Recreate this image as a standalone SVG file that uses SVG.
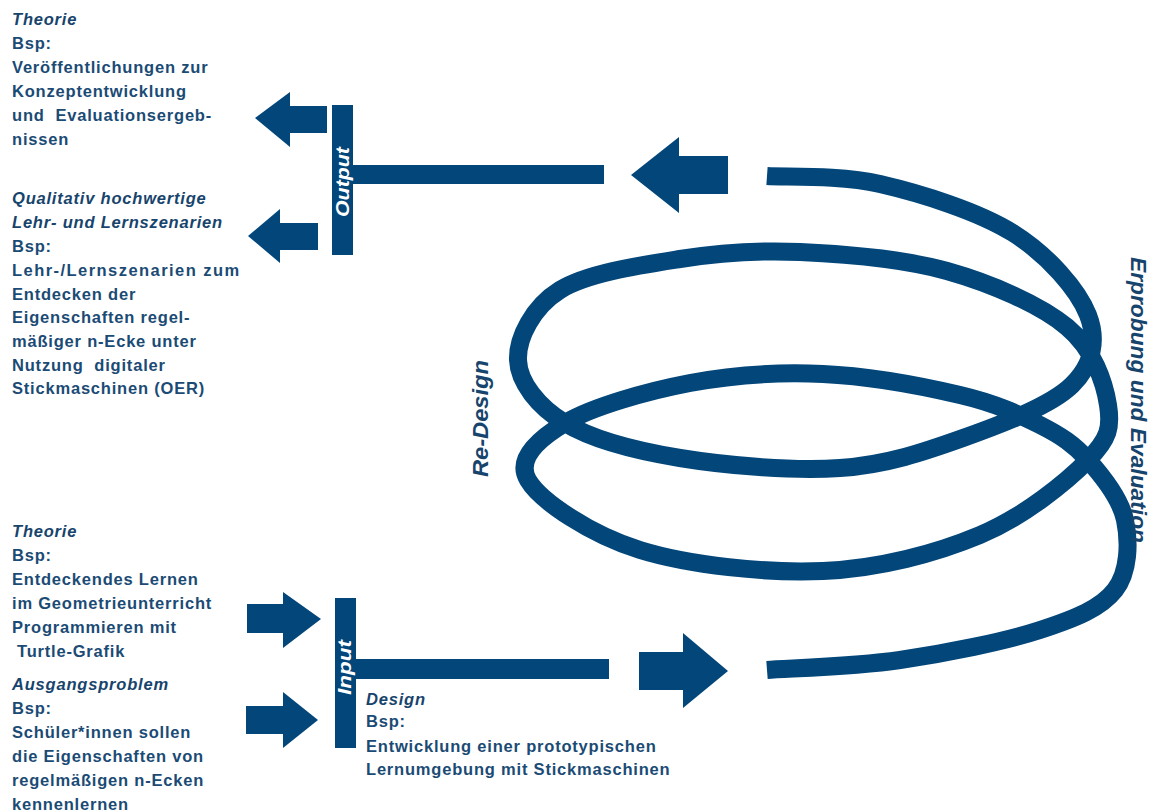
<svg xmlns="http://www.w3.org/2000/svg" width="1149" height="812" viewBox="0 0 1149 812">
<style>
.shape{fill:#03467A}
.t{font-family:"Liberation Sans",Arial,sans-serif;font-size:16.5px;font-weight:bold;fill:#1B4B75;letter-spacing:0.8px}
.h{font-style:italic;fill:#17446C}
.lbl{font-family:"Liberation Sans",Arial,sans-serif;font-weight:bold;font-style:italic;font-size:22px;fill:#17446C}
.bar{font-family:"Liberation Sans",Arial,sans-serif;font-weight:bold;font-style:italic;font-size:18px;fill:#FFFFFF}
.spiral{fill:none;stroke:#03467A;stroke-width:18;stroke-linejoin:round;stroke-linecap:butt}
</style>
<rect width="1149" height="812" fill="#FFFFFF"/>

<g id="connectors">
  <polygon class="shape" points="255,118 290,92 290,106 327,106 327,133 290,133 290,147"/>
  <polygon class="shape" points="248,236 280,209 280,223 318,223 318,250 280,250 280,263"/>
  <polygon class="shape" points="631,175 679,137 679,156 728,156 728,194 679,194 679,213"/>
  <polygon class="shape" points="247,604 283,604 283,592 321,619 283,648 283,633 247,633"/>
  <polygon class="shape" points="246,706 283,706 283,692 318,720 283,748 283,734 246,734"/>
  <polygon class="shape" points="639,652 683,652 683,633 728,671 683,708 683,690 639,690"/>
</g>

<g id="output">
  <rect class="shape" x="332" y="105" width="21" height="150"/>
  <rect class="shape" x="353" y="165" width="251" height="19"/>
  <text class="bar" transform="translate(349,217) rotate(-90)" textLength="70" lengthAdjust="spacingAndGlyphs">Output</text>
</g>

<g id="input">
  <rect class="shape" x="335" y="598" width="21" height="150"/>
  <rect class="shape" x="356" y="659" width="253" height="20"/>
  <text class="bar" transform="translate(351,695) rotate(-90)" textLength="55" lengthAdjust="spacingAndGlyphs">Input</text>
</g>

<g id="spiral">
  <path class="spiral" d="M767,176 C785.8,177.3 839,174.5 880,184 C921,193.5 978.3,211.2 1013,233 C1047.7,254.8 1078.2,289.7 1088,315 C1097.8,340.3 1092.8,364.5 1072,385 C1051.2,405.5 1001.7,424.2 963,438 C924.3,451.8 887.2,464.7 840,468 C792.8,471.3 725.8,465.5 680,458 C634.2,450.5 592,439.3 565,423 C538,406.7 518.8,382.2 518,360 C517.2,337.8 533,306.8 560,290 C587,273.2 640,265.3 680,259 C720,252.7 755.5,250 800,252 C844.5,254 902.5,258.5 947,271 C991.5,283.5 1040.2,304.7 1067,327 C1093.8,349.3 1104.5,382.8 1108,405 C1111.5,427.2 1109.3,438.3 1088,460 C1066.7,481.7 1024.2,516.5 980,535 C935.8,553.5 879.7,568.5 823,571 C766.3,573.5 689.2,565.2 640,550 C590.8,534.8 540.5,501.2 528,480 C515.5,458.8 538,439.2 565,423 C592,406.8 647,391.2 690,383 C733,374.8 778,372 823,374 C868,376 923.8,386.5 960,395 C996.2,403.5 1018.7,414.2 1040,425 C1061.3,435.8 1073.8,444.2 1088,460 C1102.2,475.8 1120.5,498.3 1125,520 C1129.5,541.7 1129.2,571.7 1115,590 C1100.8,608.3 1075.8,618.3 1040,630 C1004.2,641.7 945.5,653.3 900,660 C854.5,666.7 789.2,668.3 767,670"/>
  <text class="lbl" transform="translate(488,477) rotate(-90)" textLength="117" lengthAdjust="spacingAndGlyphs">Re-Design</text>
  <text class="lbl" transform="translate(1131,257) rotate(90)" textLength="286" lengthAdjust="spacingAndGlyphs">Erprobung und Evaluation</text>
</g>

<g id="output-theorie">
  <text class="t h" x="12" y="25">Theorie</text>
  <text class="t" x="12" y="49">Bsp:</text>
  <text class="t" x="12" y="73">Veröffentlichungen zur</text>
  <text class="t" x="12" y="97">Konzeptentwicklung</text>
  <text class="t" x="12" y="121" xml:space="preserve">und  Evaluationsergeb-</text>
  <text class="t" x="12" y="145">nissen</text>
</g>

<g id="output-szenarien">
  <text class="t h" x="12" y="204">Qualitativ hochwertige</text>
  <text class="t h" x="12" y="228">Lehr- und Lernszenarien</text>
  <text class="t" x="12" y="252">Bsp:</text>
  <text class="t" x="12" y="276" textLength="228">Lehr-/Lernszenarien zum</text>
  <text class="t" x="12" y="300">Entdecken der</text>
  <text class="t" x="12" y="323">Eigenschaften regel-</text>
  <text class="t" x="12" y="347">mäßiger n-Ecke unter</text>
  <text class="t" x="12" y="371" xml:space="preserve">Nutzung  digitaler</text>
  <text class="t" x="12" y="394">Stickmaschinen (OER)</text>
</g>

<g id="input-theorie">
  <text class="t h" x="12" y="537">Theorie</text>
  <text class="t" x="12" y="561">Bsp:</text>
  <text class="t" x="12" y="585">Entdeckendes Lernen</text>
  <text class="t" x="12" y="609">im Geometrieunterricht</text>
  <text class="t" x="12" y="633">Programmieren mit</text>
  <text class="t" x="17" y="657">Turtle-Grafik</text>
</g>

<g id="input-ausgangsproblem">
  <text class="t h" x="12" y="690">Ausgangsproblem</text>
  <text class="t" x="12" y="714">Bsp:</text>
  <text class="t" x="12" y="738">Schüler*innen sollen</text>
  <text class="t" x="12" y="762">die Eigenschaften von</text>
  <text class="t" x="12" y="786">regelmäßigen n-Ecken</text>
  <text class="t" x="12" y="810">kennenlernen</text>
</g>

<g id="design">
  <text class="t h" x="366" y="705">Design</text>
  <text class="t" x="366" y="727">Bsp:</text>
  <text class="t" x="366" y="752">Entwicklung einer prototypischen</text>
  <text class="t" x="366" y="775">Lernumgebung mit Stickmaschinen</text>
</g>
</svg>
